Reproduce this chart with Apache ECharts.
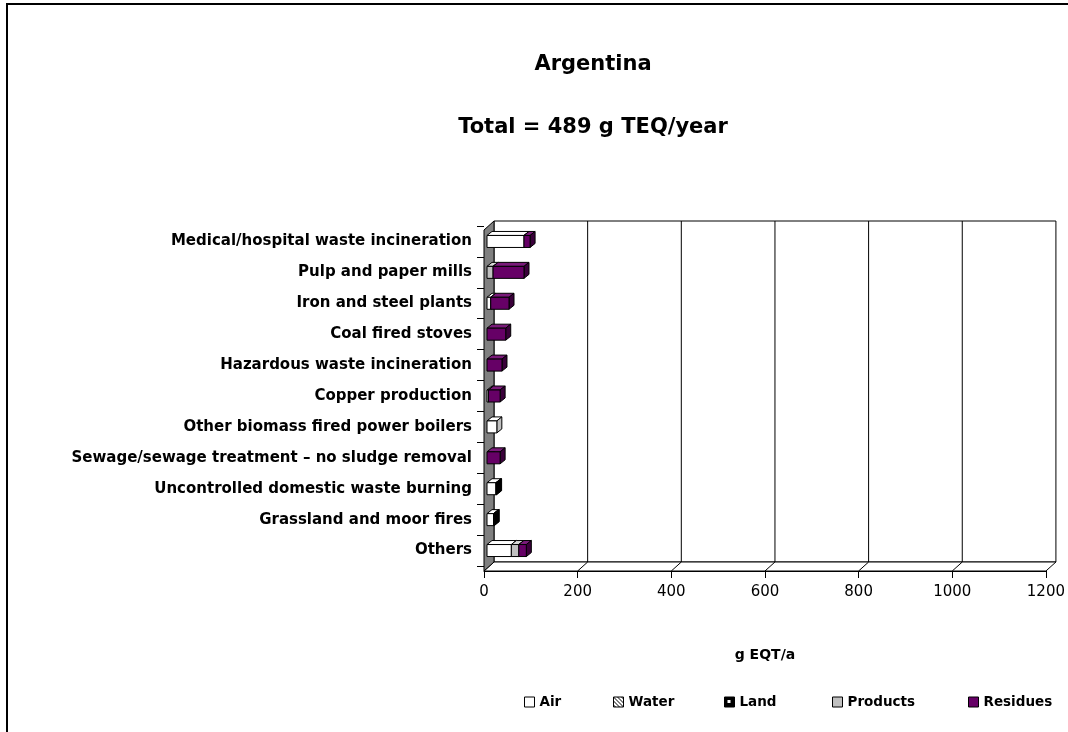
<!DOCTYPE html>
<html>
<head>
<meta charset="utf-8">
<script src="https://cdn.jsdelivr.net/npm/echarts@6/dist/echarts.min.js"></script>
<style>html,body{margin:0;padding:0;background:#fff}#c{width:1068px;height:732px}</style>
</head>
<body>
<div id="c"></div>
<script>
const categories = ['Medical/hospital waste incineration', 'Pulp and paper mills', 'Iron and steel plants', 'Coal fired stoves', 'Hazardous waste incineration', 'Copper production', 'Other biomass fired power boilers', 'Sewage/sewage treatment \u2013 no sludge removal', 'Uncontrolled domestic waste burning', 'Grassland and moor fires', 'Others'];
const air      = [79, 0, 8, 0, 0, 3, 21, 0, 19, 14, 52];
const water    = [0, 0, 0, 0, 0, 0, 0, 0, 0, 0, 0];
const land     = [0, 0, 0, 0, 0, 0, 0, 0, 1.5, 1.5, 0];
const products = [0, 13, 0, 0, 0, 0, 0, 0, 0, 0, 16];
const residues = [13, 66, 39, 40, 32, 25, 0, 28, 0, 0, 16];
const xTicks = [0, 200, 400, 600, 800, 1000, 1200];
const seriesNames = ['Air', 'Water', 'Land', 'Products', 'Residues'];
const legendLeft = [524, 613, 724, 832, 968];

function pat(draw, w, h) {
  const c = document.createElement('canvas'); c.width = w; c.height = h;
  const g = c.getContext('2d'); draw(g); return c;
}
const waterPat = pat(g => { g.fillStyle = '#fff'; g.fillRect(0,0,4,4); g.strokeStyle = '#000'; g.lineWidth = 1; g.beginPath(); g.moveTo(0,0); g.lineTo(4,4); g.stroke(); }, 4, 4);
const landPat = pat(g => { g.fillStyle = '#000'; g.fillRect(0,0,10,10); g.fillStyle = '#fff'; g.fillRect(3,3,3,3); }, 10, 10);

const styles = {
  Air:      { front: '#ffffff', top: '#ffffff', side: '#c0c0c0', legend: '#ffffff' },
  Water:    { front: '#ffffff', top: '#ffffff', side: '#a0a0a0', legend: { image: waterPat, repeat: 'repeat' } },
  Land:     { front: '#202020', top: '#404040', side: '#000000', legend: { image: landPat, repeat: 'no-repeat' } },
  Products: { front: '#c0c0c0', top: '#d8d8d8', side: '#909090', legend: '#c0c0c0' },
  Residues: { front: '#660066', top: '#7a1a7a', side: '#3a003a', legend: '#660066' }
};

const allVals = [air, water, land, products, residues];
const acc = categories.map(() => 0);
const stacked = allVals.map(arr => arr.map((v, i) => { const s = acc[i]; acc[i] += v; return [i, s, s + v]; }));

const DX = 10, DY = 9;     // wall depth
const BX = 5, BY = 4;      // bar depth
const BH = 12;             // bar height

function frameRender(params, api) {
  const cs = params.coordSys;
  const L = api.coord([0, 0])[0];
  const R = api.coord([1200, 0])[0];
  const ft = cs.y + 4, fb = cs.y + cs.height + 5;
  const children = [];
  children.push({ type: 'rect', shape: { x: L + DX, y: ft - DY, width: R - L, height: fb - ft }, style: { fill: '#fff', stroke: '#000', lineWidth: 1 } });
  children.push({ type: 'polygon', shape: { points: [[L, fb], [L + DX, fb - DY], [R + DX, fb - DY], [R, fb]] }, style: { fill: '#fff', stroke: '#000', lineWidth: 1 } });
  children.push({ type: 'polygon', shape: { points: [[L, ft], [L + DX, ft - DY], [L + DX, fb - DY], [L, fb]] }, style: { fill: '#808080', stroke: '#000', lineWidth: 1 } });
  xTicks.slice(1, -1).forEach(v => {
    const x = api.coord([v, 0])[0];
    children.push({ type: 'polyline', shape: { points: [[x + DX, ft - DY], [x + DX, fb - DY], [x, fb]] }, style: { stroke: '#000', lineWidth: 1, fill: null } });
  });
  return { type: 'group', children: children };
}

function makeBarRender(name) {
  const st = styles[name];
  return function (params, api) {
    const ci = api.value(0), s = api.value(1), e = api.value(2);
    if (!(e > s)) return null;
    const p0 = api.coord([s, ci]), p1 = api.coord([e, ci]);
    const x0 = p0[0] + 3, x1 = p1[0] + 3, yt = p0[1] - BH / 2, yb = p0[1] + BH / 2;
    const ls = { stroke: '#000', lineWidth: 1 };
    return { type: 'group', children: [
      { type: 'polygon', shape: { points: [[x0, yt], [x0 + BX, yt - BY], [x1 + BX, yt - BY], [x1, yt]] }, style: Object.assign({ fill: st.top }, ls) },
      { type: 'polygon', shape: { points: [[x1, yt], [x1 + BX, yt - BY], [x1 + BX, yb - BY], [x1, yb]] }, style: Object.assign({ fill: st.side }, ls) },
      { type: 'rect', shape: { x: x0, y: yt, width: x1 - x0, height: BH }, style: Object.assign({ fill: st.front }, ls) }
    ] };
  };
}

const font = '"DejaVu Sans", sans-serif';
const series = [{
  type: 'custom', name: '_frame', renderItem: frameRender, data: [[0, 0, 0]], encode: { x: 1, y: 0 }, z: 1, silent: true
}].concat(seriesNames.map((n, k) => ({
  type: 'custom', name: n, renderItem: makeBarRender(n), data: stacked[k],
  encode: { x: [1, 2], y: 0 }, z: 2 + k,
  itemStyle: { color: styles[n].front, borderColor: '#000' }
})));

const legends = seriesNames.map((n, k) => ({
  data: [{ name: n, icon: 'rect', itemStyle: { color: styles[n].legend, borderColor: '#000', borderWidth: 1 } }],
  left: legendLeft[k], top: 695, itemWidth: 10, itemHeight: 10, padding: 0, selectedMode: false,
  textStyle: { color: '#000', fontSize: 13.5, fontWeight: 'bold', fontFamily: font, padding: [0, 0, 0, 0] }
}));

const chart = echarts.init(document.getElementById('c'), null, { renderer: 'canvas' });
chart.setOption({
  animation: false,
  backgroundColor: '#fff',
  textStyle: { fontFamily: font },
  graphic: [
    { type: 'rect', shape: { x: 7, y: 4, width: 1080, height: 760 }, style: { fill: null, stroke: '#000', lineWidth: 2 }, z: 100 },
    { type: 'text', x: 593, y: 65, style: { text: 'Argentina', font: 'bold 21px ' + font, fill: '#000', align: 'center', verticalAlign: 'middle' } },
    { type: 'text', x: 593, y: 128, style: { text: 'Total = 489 g TEQ/year', font: 'bold 21px ' + font, fill: '#000', align: 'center', verticalAlign: 'middle' } }
  ],
  grid: { left: 484, right: 18, top: 226, height: 340 },
  xAxis: {
    type: 'value', min: 0, max: 1200, interval: 200, offset: 5,
    axisLine: { show: true, lineStyle: { color: '#000' } },
    axisTick: { show: true, length: 7, lineStyle: { color: '#000' } },
    axisLabel: { color: '#000', fontSize: 15, margin: 14, fontFamily: font, formatter: v => String(v) },
    splitLine: { show: false },
    name: 'g EQT/a', nameLocation: 'middle', nameGap: 77,
    nameTextStyle: { color: '#000', fontSize: 14, fontWeight: 'bold', fontFamily: font }
  },
  yAxis: {
    type: 'category', data: categories, inverse: true,
    axisLine: { show: false },
    axisTick: { show: true, length: 7, lineStyle: { color: '#000' } },
    axisLabel: { color: '#000', fontSize: 15, fontWeight: 'bold', margin: 12, fontFamily: font },
    splitLine: { show: false }
  },
  legend: legends,
  series: series
});
</script>
</body>
</html>
